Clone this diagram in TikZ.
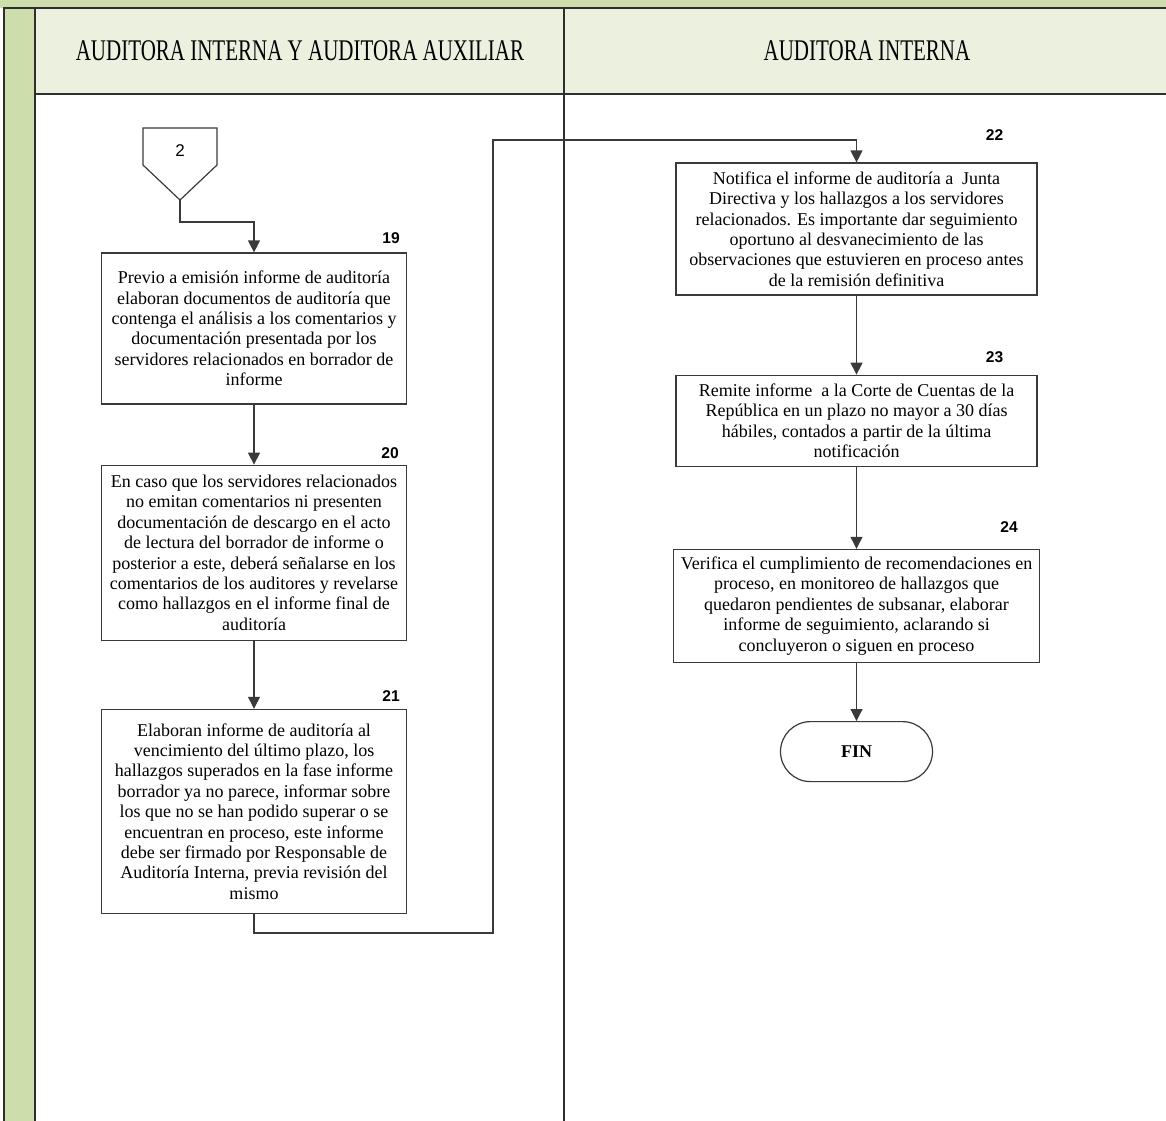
\documentclass[tikz,border=0pt]{standalone}
\usepackage{fontspec}
\setmainfont{Liberation Serif}
\newfontfamily\lanefont{Liberation Serif}[FakeStretch=0.7]
\newfontfamily\stepfont{Liberation Sans}
\usetikzlibrary{arrows.meta,positioning}
\definecolor{lanegreen}{HTML}{CDDDAC}
\definecolor{headerbg}{HTML}{EBF0DF}
\definecolor{frameline}{HTML}{2E2E2E}
\definecolor{boxline}{HTML}{3A3A3A}
\tikzset{
  processbox/.style={draw=boxline,fill=white,align=center,inner sep=2pt,
    font=\fontsize{9}{10.2}\selectfont,line width=0.6pt},
  stepnumber/.style={font=\stepfont\bfseries\fontsize{7.8}{8}\selectfont,inner sep=0pt},
  flowarrow/.style={-{Triangle[length=6pt,width=6pt]},draw=boxline,line width=0.6pt},
  lanetitle/.style={font=\lanefont\fontsize{15}{16}\selectfont,inner sep=0pt}
}

\begin{document}
\begin{tikzpicture}[x=0.5pt,y=-0.5pt,
  terminal/.style={draw=boxline,rounded corners=15pt,minimum width=76pt,
    minimum height=30pt,font=\bfseries\fontsize{9}{10}\selectfont,line width=0.6pt},
  offlabel/.style={font=\stepfont\fontsize{8.5}{9}\selectfont,inner sep=0pt}
]
  \useasboundingbox (0,0) rectangle (1166,1120);
  % marco y carriles
  \fill[lanegreen] (0,0) rectangle (1166,8);
  \fill[headerbg] (35,8) rectangle (1166,94);
  \filldraw[fill=lanegreen,draw=frameline,line width=0.8pt] (4,8) rectangle (35,1125);
  \draw[frameline,line width=0.8pt] (4,8) -- (1166,8) (35,94) -- (1166,94) (564,8) -- (564,1125);
  \node[lanetitle] (lane1) at (300,51) {AUDITORA INTERNA Y AUDITORA AUXILIAR};
  \node[lanetitle] (lane2) at (867,51) {AUDITORA INTERNA};

  % carril izquierdo
  \draw[boxline,line width=0.6pt] (143,128) -- (217,128) -- (217,165) -- (180,200)
    -- (143,165) -- cycle;
  \node[offlabel] (off2) at (180,151) {2};
  \coordinate (off2tip) at (180,200);
  \node[processbox,minimum width=152.5pt,minimum height=75.5pt] (step19) at (254,328.5)
    {Previo a emisión informe de auditoría\\
     elaboran documentos de auditoría que\\
     contenga el análisis a los comentarios y\\
     documentación presentada por los\\
     servidores relacionados en borrador de\\
     informe};
  \node[processbox,minimum width=152.5pt,minimum height=87.5pt,below=30pt of step19] (step20)
    {En caso que los servidores relacionados\\
     no emitan comentarios ni presenten\\
     documentación de descargo en el acto\\
     de lectura del borrador de informe o\\
     posterior a este, deberá señalarse en los\\
     comentarios de los auditores y revelarse\\
     como hallazgos en el informe final de\\
     auditoría};
  \node[processbox,minimum width=152.5pt,minimum height=102pt,below=34pt of step20] (step21)
    {Elaboran informe de auditoría al\\
     vencimiento del último plazo, los\\
     hallazgos superados en la fase informe\\
     borrador ya no parece, informar sobre\\
     los que no se han podido superar o se\\
     encuentran en proceso, este informe\\
     debe ser firmado por Responsable de\\
     Auditoría Interna, previa revisión del\\
     mismo};
  \node[stepnumber,above left=4pt and 3.5pt of step19.north east] (num19) {19};
  \node[stepnumber,above left=3pt and 4pt of step20.north east] (num20) {20};
  \node[stepnumber,above left=3.5pt and 3.5pt of step21.north east] (num21) {21};

  % carril derecho
  \node[processbox,minimum width=180.5pt,minimum height=66pt] (step22) at (856.5,229)
    {Notifica el informe de auditoría a \ Junta\\
     Directiva y los hallazgos a los servidores\\
     relacionados. Es importante dar seguimiento\\
     oportuno al desvanecimiento de las\\
     observaciones que estuvieren en proceso antes\\
     de la remisión definitiva};
  \node[processbox,minimum width=180.5pt,minimum height=45.5pt,below=39.5pt of step22] (step23)
    {Remite informe \ a la Corte de Cuentas de la\\
     República en un plazo no mayor a 30 días\\
     hábiles, contados a partir de la última\\
     notificación};
  \node[processbox,minimum width=183pt,minimum height=56.5pt,below=41pt of step23] (step24)
    {Verifica el cumplimiento de recomendaciones en\\
     proceso, en monitoreo de hallazgos que\\
     quedaron pendientes de subsanar, elaborar\\
     informe de seguimiento, aclarando si\\
     concluyeron o siguen en proceso};
  \node[terminal,below=29pt of step24] (fin) {FIN};
  \node[stepnumber,above left=11pt and 17pt of step22.north east] (num22) {22};
  \node[stepnumber,above left=6pt and 17pt of step23.north east] (num23) {23};
  \node[stepnumber,above left=8pt and 11pt of step24.north east] (num24) {24};

  % conectores
  \coordinate (jumpbottom) at (493,933);
  \coordinate (jumptop) at (493,140);
  \draw[flowarrow] (off2tip) -- ++(0,22) -| (step19.north);
  \draw[flowarrow] (step19) -- (step20);
  \draw[flowarrow] (step20) -- (step21);
  \draw[flowarrow] (step21.south) |- (jumpbottom) -- (jumptop) -| (step22.north);
  \draw[flowarrow] (step22) -- (step23);
  \draw[flowarrow] (step23) -- (step24);
  \draw[flowarrow] (step24) -- (fin);
\end{tikzpicture}
\end{document}
